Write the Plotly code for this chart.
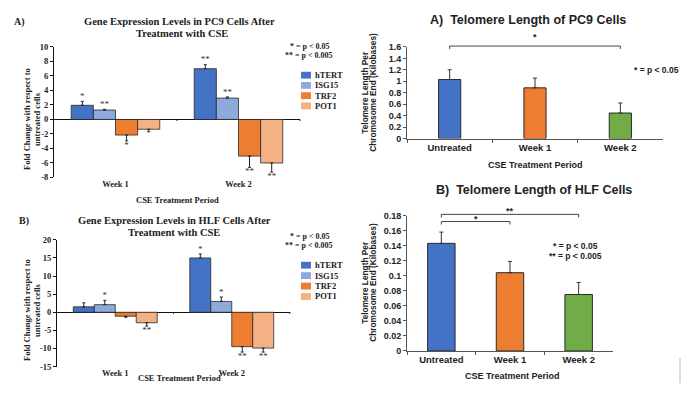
import plotly.graph_objects as go

# ---------------- data ----------------
weeks = ["Week 1", "Week 2"]
genes = ["hTERT", "ISG15", "TRF2", "POT1"]
gene_colors = ["#4472C4", "#8EA9DB", "#ED7D31", "#F4B183"]

pc9_hTERT = [1.95, 7.0]
pc9_ISG15 = [1.3, 2.95]
pc9_TRF2 = [-2.15, -5.05]
pc9_POT1 = [-1.35, -6.0]
pc9_hTERT_err = [0.55, 0.55]
pc9_ISG15_err = [0.1, 0.15]
pc9_TRF2_err = [0.8, 1.55]
pc9_POT1_err = [0.35, 1.25]
pc9_hTERT_sig = ["*", "**"]
pc9_ISG15_sig = ["**", "**"]
pc9_TRF2_sig = ["*", "**"]
pc9_POT1_sig = ["", "**"]

hlf_hTERT = [1.5, 15.0]
hlf_ISG15 = [2.1, 3.0]
hlf_TRF2 = [-1.1, -9.5]
hlf_POT1 = [-2.9, -9.9]
hlf_hTERT_err = [1.1, 1.1]
hlf_ISG15_err = [1.2, 1.2]
hlf_TRF2_err = [0.3, 1.5]
hlf_POT1_err = [0.9, 1.1]
hlf_hTERT_sig = ["", "*"]
hlf_ISG15_sig = ["*", "*"]
hlf_TRF2_sig = ["", "**"]
hlf_POT1_sig = ["**", "**"]

pc9_ticks = [-8, -6, -4, -2, 0, 2, 4, 6, 8, 10]
pc9_ticktext = ["-8", "-6", "-4", "-2", "0", "2", "4", "6", "8", "10"]
hlf_ticks = [-15, -10, -5, 0, 5, 10, 15, 20]
hlf_ticktext = ["-15", "-10", "-5", "0", "5", "10", "15", "20"]

periods = ["Untreated", "Week 1", "Week 2"]
period_colors = ["#4472C4", "#ED7D31", "#70AD47"]
pc9_telo = [1.03, 0.885, 0.445]
pc9_telo_err = [0.17, 0.17, 0.175]
hlf_telo = [0.143, 0.104, 0.075]
hlf_telo_err = [0.015, 0.015, 0.016]

# ---------------- helpers ----------------
W, H = 686, 393
def PX(x): return x / W
def PY(y): return 1 - y / H

SERIF = "Liberation Serif"
SANS = "Liberation Sans"
BAR_W = 0.18

fig = go.Figure()

def gene_panel(xa, ya, vals, errs, sigs):
    sx, sy, st, sp = [], [], [], []
    for i, g in enumerate(genes):
        off = (i - 1.5) * BAR_W
        xs = [k + off for k in range(len(weeks))]
        v = vals[i]; e = errs[i]
        plus = [ee if vv >= 0 else 0 for vv, ee in zip(v, e)]
        minus = [ee if vv < 0 else 0 for vv, ee in zip(v, e)]
        fig.add_trace(go.Bar(
            x=xs, y=v, width=BAR_W, xaxis=xa, yaxis=ya, name=g,
            marker=dict(color=gene_colors[i], line=dict(color="#2a2a2a", width=0.8)),
            error_y=dict(type="data", symmetric=False, array=plus, arrayminus=minus,
                         color="#222", thickness=1, width=1.5),
            showlegend=False))
        for k in range(len(weeks)):
            if sigs[i][k]:
                sx.append(xs[k])
                if v[k] >= 0:
                    sy.append(v[k] + e[k]); sp.append("top center")
                else:
                    sy.append(v[k] - e[k]); sp.append("bottom center")
                st.append(sigs[i][k])
    fig.add_trace(go.Scatter(
        x=sx, y=sy, text=st, textposition=sp, mode="text", xaxis=xa, yaxis=ya,
        textfont=dict(family=SERIF, size=9, color="#333"), cliponaxis=False,
        showlegend=False, hoverinfo="skip"))

gene_panel("x", "y",
           [pc9_hTERT, pc9_ISG15, pc9_TRF2, pc9_POT1],
           [pc9_hTERT_err, pc9_ISG15_err, pc9_TRF2_err, pc9_POT1_err],
           [pc9_hTERT_sig, pc9_ISG15_sig, pc9_TRF2_sig, pc9_POT1_sig])
gene_panel("x2", "y2",
           [hlf_hTERT, hlf_ISG15, hlf_TRF2, hlf_POT1],
           [hlf_hTERT_err, hlf_ISG15_err, hlf_TRF2_err, hlf_POT1_err],
           [hlf_hTERT_sig, hlf_ISG15_sig, hlf_TRF2_sig, hlf_POT1_sig])

fig.add_trace(go.Bar(
    x=periods, y=pc9_telo, width=0.26, xaxis="x3", yaxis="y3",
    marker=dict(color=period_colors, line=dict(color="#2a2a2a", width=1)),
    error_y=dict(type="data", symmetric=False, array=pc9_telo_err,
                 arrayminus=[0] * len(pc9_telo), color="#333", thickness=1, width=2),
    showlegend=False))
fig.add_trace(go.Bar(
    x=periods, y=hlf_telo, width=0.4, xaxis="x4", yaxis="y4",
    marker=dict(color=period_colors, line=dict(color="#2a2a2a", width=1)),
    error_y=dict(type="data", symmetric=False, array=hlf_telo_err,
                 arrayminus=[0] * len(hlf_telo), color="#333", thickness=1, width=2),
    showlegend=False))

# ---------------- axes ----------------
serif_tick = dict(family=SERIF, size=8.5, color="#222", weight="bold")
sans_tick = dict(family=SANS, size=9, color="#222", weight="bold")

def left_x(dom, anchor):
    return dict(domain=dom, anchor=anchor, range=[-0.5, 1.5], tickvals=[0, 1],
                ticktext=weeks, showline=False, ticks="", showgrid=False,
                zeroline=False, tickfont=serif_tick, fixedrange=True)

def left_y(dom, anchor, rng, tv, tt):
    return dict(domain=dom, anchor=anchor, range=rng, tickvals=tv, ticktext=tt,
                showline=True, linecolor="#111", linewidth=1, ticks="outside",
                ticklen=3, tickcolor="#111", showgrid=False, zeroline=True,
                zerolinecolor="#111", zerolinewidth=1, tickfont=serif_tick)

def right_x(dom, anchor):
    return dict(domain=dom, anchor=anchor, type="category", range=[-0.5, 2.5],
                showline=True, linecolor="#555", linewidth=1, ticks="outside",
                tickson="boundaries", ticklen=3, tickcolor="#555", showgrid=False,
                tickfont=dict(family=SANS, size=9.5, color="#222", weight="bold"))

def right_y(dom, anchor, rng, dt):
    return dict(domain=dom, anchor=anchor, range=rng, dtick=dt, showline=True,
                linecolor="#555", linewidth=1, ticks="outside", ticklen=3,
                tickcolor="#555", showgrid=False, zeroline=False, tickfont=sans_tick)

fig.update_layout(
    width=W, height=H, margin=dict(l=0, r=0, t=0, b=0),
    paper_bgcolor="white", plot_bgcolor="white", barmode="overlay",
    xaxis=left_x([PX(54), PX(300)], "y"),
    yaxis=left_y([PY(177), PY(43)], "x", [-8, 10], pc9_ticks, pc9_ticktext),
    xaxis2=left_x([PX(57), PX(290)], "y2"),
    yaxis2=left_y([PY(371), PY(241)], "x2", [-15, 20], hlf_ticks, hlf_ticktext),
    xaxis3=right_x([PX(407), PX(663)], "y3"),
    yaxis3=right_y([PY(137), PY(43)], "x3", [0, 1.6], 0.2),
    xaxis4=right_x([PX(407), PX(613)], "y4"),
    yaxis4=right_y([PY(355), PY(216)], "x4", [0, 0.18], 0.02),
)

ann = []
shapes = []

def text(x, y, s, size, family, xanchor="center", angle=0, color="#222"):
    ann.append(dict(x=PX(x), y=PY(y), xref="paper", yref="paper", text=s,
                    showarrow=False, xanchor=xanchor, yanchor="middle",
                    textangle=angle,
                    font=dict(family=family, size=size, color=color, weight="bold")))

# left panels text
text(12, 17, "A)", 10, SERIF, "left")
text(180, 17, "Gene Expression Levels in PC9 Cells After", 10.5, SERIF)
text(182, 29, "Treatment with CSE", 10.5, SERIF)
text(27, 117, "Fold Change with respect to", 8.5, SERIF, angle=-90)
text(37, 117, "untreated cells", 8.5, SERIF, angle=-90)
text(177, 200, "CSE Treatment Period", 8.5, SERIF)
text(310, 43, "* = p &lt; 0.05", 8, SERIF)
text(309, 52, "** = p &lt; 0.005", 8, SERIF)

text(17, 222, "B)", 10, SERIF, "left")
text(174, 221, "Gene Expression Levels in HLF Cells After", 10.5, SERIF)
text(174, 233, "Treatment with CSE", 10.5, SERIF)
text(27, 313, "Fold Change with respect to", 8.5, SERIF, angle=-90)
text(37, 313, "untreated cells", 8.5, SERIF, angle=-90)
text(180, 383, "CSE Treatment Period", 8.5, SERIF)
text(310, 238, "* = p &lt; 0.05", 8, SERIF)
text(309, 247, "** = p &lt; 0.005", 8, SERIF)

# manual legends
for y0, gap in [(72, 10.5), (267, 10.7)]:
    for i, g in enumerate(genes):
        yc = y0 + i * gap
        shapes.append(dict(type="rect", xref="paper", yref="paper",
                           x0=PX(301), x1=PX(311), y0=PY(yc + 3.5), y1=PY(yc - 3.5),
                           fillcolor=gene_colors[i], line=dict(width=0)))
        text(313, yc, g, 8.5, SERIF, "left")

# small x-axis tick marks on zero lines
for xr, yr, lo, hi in [("x domain", "y domain", -8, 10), ("x2 domain", "y2 domain", -15, 20)]:
    z = (0 - lo) / (hi - lo)
    for f in [0.5, 1.0]:
        shapes.append(dict(type="line", xref=xr, yref=yr, x0=f, x1=f,
                           y0=z, y1=z - 0.012, line=dict(color="#111", width=1)))

# right panels text
text(528, 15, "A)  Telomere Length of PC9 Cells", 12.5, SANS)
text(365, 90, "Telomere Length Per", 8.3, SANS, angle=-90)
text(373, 90, "Chromosome End (Kilobases)", 8.3, SANS, angle=-90)
text(535, 164, "CSE Treatment Period", 9, SANS)
text(681, 67, "* = p &lt; 0.05", 8.5, SANS, "right")

text(534, 190, "B)  Telomere Length of HLF Cells", 12.5, SANS)
text(365, 285, "Telomere Length Per", 8.3, SANS, angle=-90)
text(373, 285, "Chromosome End (Kilobases)", 8.3, SANS, angle=-90)
text(512, 381, "CSE Treatment Period", 9, SANS)
text(575, 247, "* = p &lt; 0.05", 8.5, SANS)
text(575, 258, "** = p &lt; 0.005", 8.5, SANS)

# significance brackets (category index -> domain fraction)
def cat_frac(name):
    return (periods.index(name) + 0.5) / len(periods)

def bracket(xr, yr, a, b, level, drop, lo, hi, label, shift):
    fa, fb = cat_frac(a), cat_frac(b)
    top = (level - lo) / (hi - lo)
    bot = (level - drop - lo) / (hi - lo)
    shapes.append(dict(type="path", xref=xr, yref=yr,
                       path=f"M {fa} {bot} L {fa} {top} L {fb} {top} L {fb} {bot}",
                       line=dict(color="#444", width=1)))
    ann.append(dict(x=(fa + fb) / 2, y=top, xref=xr, yref=yr, text=label,
                    showarrow=False, yanchor="bottom", yshift=shift,
                    font=dict(family=SANS, size=9, color="#222", weight="bold")))

bracket("x3 domain", "y3 domain", "Untreated", "Week 2", 1.615, 0.05, 0, 1.6, "*", 2)
bracket("x4 domain", "y4 domain", "Untreated", "Week 1", 0.172, 0.004, 0, 0.18, "*", -4)
bracket("x4 domain", "y4 domain", "Untreated", "Week 2", 0.1815, 0.004, 0, 0.18, "**", -4)

# faint vertical line at lower right
shapes.append(dict(type="line", xref="paper", yref="paper", x0=PX(680), x1=PX(680),
                   y0=PY(388), y1=PY(362), line=dict(color="#bbb", width=1)))

fig.update_layout(annotations=ann, shapes=shapes)
fig.write_html("out.html", config={"displayModeBar": False},
               post_script="document.body.style.margin='0';document.body.style.overflow='hidden';")
